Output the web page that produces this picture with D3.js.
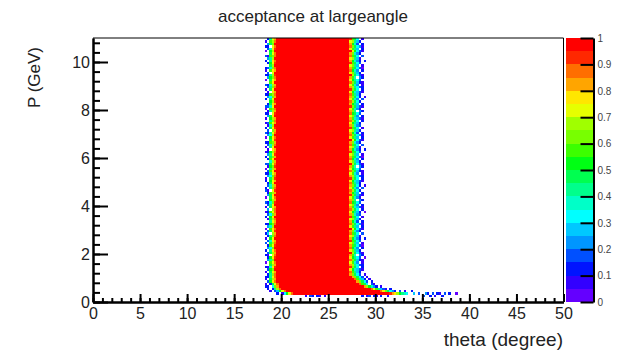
<!DOCTYPE html>
<html><head><meta charset="utf-8">
<script src="https://cdn.jsdelivr.net/npm/d3@7"></script>
<style>
html,body{margin:0;padding:0;background:#fff;}
svg{display:block;}
text{font-family:"Liberation Sans",Arial,Helvetica,sans-serif;}
</style></head><body>
<svg id="chart" width="625" height="354"></svg>
<script>
// ---------------- DATA ----------------
const title = "acceptance at largeangle";
const xTitle = "theta (degree)";
const yTitle = "P (GeV)";
const thetaDomain = [0, 50];
const pDomain = [0, 11];
const zDomain = [0, 1];
const thetaBin = 0.25;   // histogram bin width in theta
const pBin = 0.1;        // histogram bin width in P
const xTicks = [0, 5, 10, 15, 20, 25, 30, 35, 40, 45, 50];
const xMinorTicks = d3.range(0, 51, 1);
const yTicks = [0, 2, 4, 6, 8, 10];
const yMinorTicks = [0,0.4,0.8,1.2,1.6,2,2.4,2.8,3.2,3.6,4,4.4,4.8,5.2,5.6,6,6.4,6.8,7.2,7.6,8,8.4,8.8,9.2,9.6,10,10.4,10.8];
const zTicks = [0, 0.1, 0.2, 0.3, 0.4, 0.5, 0.6, 0.7, 0.8, 0.9, 1];
const zTickLabels = ["0","0.1","0.2","0.3","0.4","0.5","0.6","0.7","0.8","0.9","1"];
const palette = ["#6400ff","#3200ff","#0014ff","#0050ff","#0096ff","#00c8ff","#00ffff","#00ffc8","#00ff8c","#00ff50",
                 "#00ff14","#3cff00","#78ff00","#a0ff00","#e6ff00","#ffe600","#ffa500","#ff6e00","#ff2800","#ff0000"];
// cell codes: index in levelCodes -> acceptance (k+0.5)/20 ; '.' = empty bin
const levelCodes = "0123456789ABCDEFGHIJ";

// Upper part (P bins 11..109): body of full acceptance + noisy edges
const upperRowRange = [11, 109];
const upperBodyCols = [78, 108];
const upperLeftStart = 72;
const upperRightStart = 109;
const upperEdges = `
..28DH GC963.1.
.1.9EG HB852...
..3ACJ FA7531..
.217FI IC96.2..
...9DG GD8632..
.0.BEH EB74.1..
..48CJ HC9521..
..2AFI FA863.0.
.21.EH GB7.42..
..39DG JD9631..
.2.8FH FC852...
..46CJ HA74.2..
..2BEI GB9630..
.3.9DH EC85.1..
..37FG IB963...
.1.AEJ GA742.2.
..28CH FD851...
.25.DG HB96.3..
..39EI GC742...
.0.BFH JEA631..
..47DJ FB85.2..
.22ACH HC9641..
...8EG GA73.2..
..19DH ED852...
.2.AFJ IB96.1..
..36CG GC743...
.12BEH FA852.0.
..4.DH HD96.2..
.1.9FG GB7531..
..38EJ EC84.2..
.327CI HA963...
...ADG GC8.42..
.0.9EH FB741...
..49FJ IC9531..
..2BDG GA85.2..
.31.EI HD962...
.2.8CH FB74.3..
..37DG GC962.1.
..29FJ HB852...
.2.AEG FA7531..
.1.9DI IC96.2..
..46CH GD8632..
.228EG EB74.1..
..3BFJ HC9521..
.0.8DG FA863...
..1ACI GB7.42..
.339EH JD9631..
...7DG FC852...
..2BFJ HA74.2..
.2.9CG GB9630..
..48EI EC85.1..
.12ADH IB963...
..1.FG GA742.2.
.1.8EJ FD851...
..37DH HB96.3..
.22BCG GC742...
...9EI JEA631..
.0.AFH FB85.2..
..46DJ HC9641..
.328EH GA73.2..
..3.CG ED852...
.2.9FI IB96.1..
..17DJ GC743...
.13BEG FA852...
...8CH HD96.2..
.1.ADG GB7531..
..49FJ EC84.2..
.22.EI HA963...
..18DG GC8.42..
.0.BCH FB741...
.337EJ IC9531..
..29FG GA85.2..
...ADI HD962...
.2.8EJ FB74.3..
..46CG GC962.1.
.22BDH HB852...
..1.FG FA7531..
.1.9EJ IC96.2..
..38CH GD8632..
.327DG EB74.1..
...BFJ HC9521..
.0.9EG FA863...
..4ACH GB7.42..
.228DI JD9631..
..3.EJ FC852...
.1.BFG HA74.2..
.237CH GB9630..
...9DJ EC85.1..
..2AEI IB963...
.2.8FH GA742.2.
..48DJ FD851...
.31BCH HB96.3..
...9EH GC742...
.0.ADJ JEA631..
..37FI FB85.2..
.22.EH HC9641..
..49CJ GA73.2..
.1.BDH ED852...
..28EG IB96.1..`;

// Low-momentum rows: [row, firstBodyCol, lastBodyCol]
const lowBody = [
  [10, 78, 109], [9, 78, 110], [8, 78, 111], [7, 79, 112],
  [6, 79, 114], [5, 80, 117], [4, 82, 121], [3, 85, 125]
];
// Low-momentum explicit cells: [row, startCol, codes]
const lowCells = [
  [10, 72, ".228EH"], [10, 110, "GC963.1."],
  [9, 72, ".1.9DG"],  [9, 111, "HB852.1."],
  [8, 72, "..3AFH"],  [8, 112, "GC963.2."],
  [7, 73, "1.29EH"],  [7, 113, "HB96.31."],
  [6, 73, "22.6CG"],  [6, 115, "GDA742.1"],
  [5, 74, "2.28DH"],  [5, 118, "HEB8531.2."],
  [4, 75, "1.35AEH"], [4, 122, "HFC9642.3.1..2"],
  [3, 78, "2.16AEH"], [3, 126, "IGFDA876..5.3..42.3.21.3.2..0"],
  [2, 90, "1.32.21.1"], [2, 114, "2.13.21.2..1"], [2, 140, "3..2.1..2"]
];

// ---------------- CHART ----------------
const svg = d3.select("#chart");
const x = d3.scaleLinear().domain(thetaDomain).range([93, 563.5]);
const y = d3.scaleLinear().domain(pDomain).range([302, 38]);
const color = d3.scaleQuantize().domain(zDomain).range(palette);
const zScale = d3.scaleLinear().domain(zDomain).range([302, 38]);
const codeValue = ch => (levelCodes.indexOf(ch) + 0.5) / levelCodes.length;

// build bins
const runs = []; // {row, c0, c1, v}
const lines = upperEdges.trim().split("\n");
for (let r = upperRowRange[0]; r <= upperRowRange[1]; r++) {
  const [L, R] = lines[r - upperRowRange[0]].split(" ");
  runs.push({row: r, c0: upperBodyCols[0], c1: upperBodyCols[1], v: 1});
  [...L].forEach((ch, i) => { if (ch !== ".") runs.push({row: r, c0: upperLeftStart + i, c1: upperLeftStart + i, v: codeValue(ch)}); });
  [...R].forEach((ch, i) => { if (ch !== ".") runs.push({row: r, c0: upperRightStart + i, c1: upperRightStart + i, v: codeValue(ch)}); });
}
lowBody.forEach(([r, c0, c1]) => runs.push({row: r, c0, c1, v: 1}));
lowCells.forEach(([r, s, codes]) => {
  [...codes].forEach((ch, i) => { if (ch !== ".") runs.push({row: r, c0: s + i, c1: s + i, v: codeValue(ch)}); });
});

const px = t => Math.round(x(t));
const py = p => Math.round(y(p));
svg.append("g").selectAll("rect").data(runs).join("rect")
  .attr("x", d => px(d.c0 * thetaBin))
  .attr("width", d => px((d.c1 + 1) * thetaBin) - px(d.c0 * thetaBin))
  .attr("y", d => py((d.row + 1) * pBin))
  .attr("height", d => py(d.row * pBin) - py((d.row + 1) * pBin))
  .attr("fill", d => color(Math.min(d.v, 0.999)))
  .attr("shape-rendering", "crispEdges");

// frame (top and right)
svg.append("path")
  .attr("d", `M${x(thetaDomain[0])},${y(pDomain[1])}H${x(thetaDomain[1])}V${y(pDomain[0])}`)
  .attr("fill", "none").attr("stroke", "#000").attr("stroke-width", 1);

function styleAxis(g, fs) {
  g.selectAll(".domain").attr("stroke", "#000").attr("stroke-width", 2);
  g.selectAll(".tick line").attr("stroke", "#000").attr("stroke-width", 2);
  g.selectAll("text").attr("font-size", fs).attr("fill", "#222")
    .attr("font-family", '"Liberation Sans",Arial,sans-serif');
  g.attr("font-family", null).attr("font-size", null);
}

// x axis
const gxm = svg.append("g").attr("transform", `translate(0,${y(0)})`)
  .call(d3.axisBottom(x).tickValues(xMinorTicks).tickSize(-4).tickSizeOuter(0).tickFormat(""));
styleAxis(gxm, 16);
const gx = svg.append("g").attr("transform", `translate(0,${y(0)})`)
  .call(d3.axisBottom(x).tickValues(xTicks).tickSize(-8).tickSizeOuter(0).tickPadding(6).tickFormat(d3.format("d")));
styleAxis(gx, 16);

// y axis
const gym = svg.append("g").attr("transform", `translate(${x(0)},0)`)
  .call(d3.axisLeft(y).tickValues(yMinorTicks).tickSize(-7).tickSizeOuter(0).tickFormat(""));
styleAxis(gym, 16);
const gy = svg.append("g").attr("transform", `translate(${x(0)},0)`)
  .call(d3.axisLeft(y).tickValues(yTicks).tickSize(-15).tickSizeOuter(0).tickPadding(3).tickFormat(d3.format("d")));
styleAxis(gy, 16);

// colour bar
svg.append("g").selectAll("rect").data(palette).join("rect")
  .attr("x", 566).attr("width", 27)
  .attr("y", (c, i) => Math.round(zScale((i + 1) / palette.length)))
  .attr("height", (c, i) => Math.round(zScale(i / palette.length)) - Math.round(zScale((i + 1) / palette.length)))
  .attr("fill", c => c).attr("shape-rendering", "crispEdges");
const gz = svg.append("g").attr("transform", "translate(593.5,0)")
  .call(d3.axisRight(zScale).tickValues(zTicks).tickSize(-13).tickSizeOuter(0).tickPadding(4)
    .tickFormat((d, i) => zTickLabels[i]));
styleAxis(gz, 10);
gz.selectAll("text").attr("fill", "#444");

// titles
svg.append("text").attr("x", 313).attr("y", 22).attr("text-anchor", "middle")
  .attr("font-size", 17).attr("fill", "#222").text(title);
svg.append("text").attr("x", 563).attr("y", 346).attr("text-anchor", "end")
  .attr("font-size", 19).attr("fill", "#222").text(xTitle);
svg.append("text").attr("transform", "translate(40,47) rotate(-90)").attr("text-anchor", "end")
  .attr("font-size", 17).attr("fill", "#222").text(yTitle);
</script></body></html>
